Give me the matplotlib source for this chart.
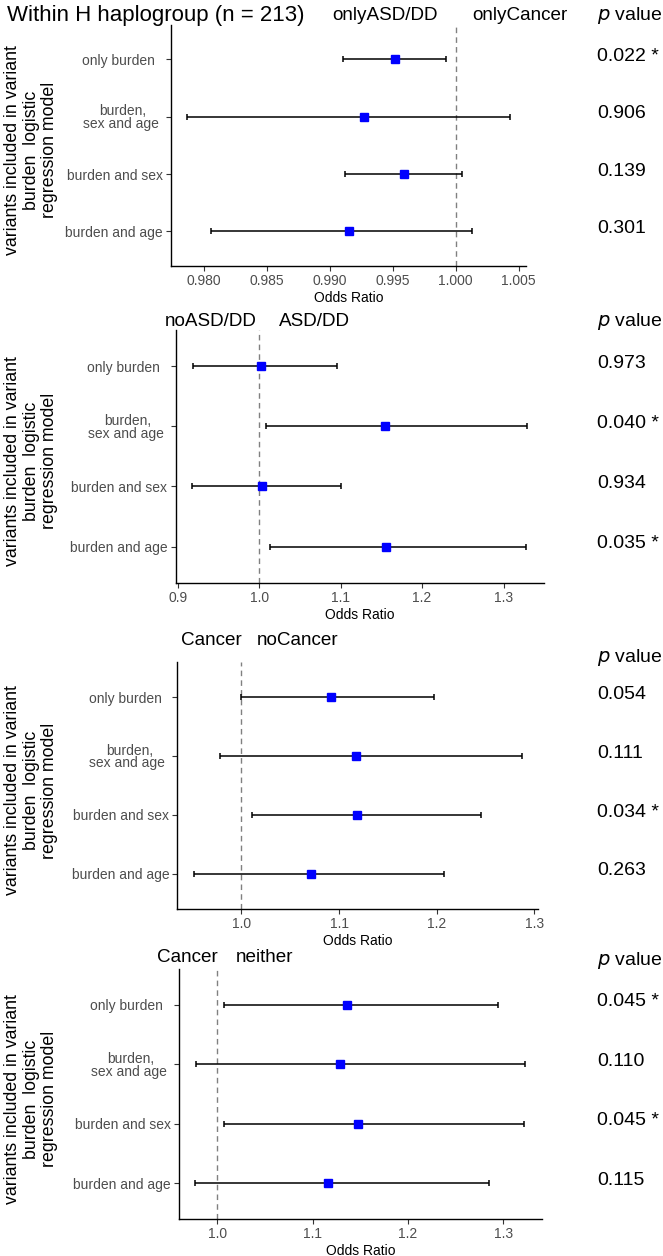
import numpy as np
import matplotlib
matplotlib.use("Agg")
import matplotlib.pyplot as plt
from matplotlib.ticker import MultipleLocator, FormatStrFormatter
from matplotlib.transforms import blended_transform_factory

plt.rcParams['font.family'] = ['Liberation Sans', 'DejaVu Sans']

models = ["only burden  ", "burden,\nsex and age ", "burden and sex", "burden and age"]

# panel 1: onlyASD/DD vs onlyCancer
or1 = [0.9952, 0.9927, 0.9959, 0.9915]
lo1 = [0.9911, 0.9787, 0.9912, 0.9806]
hi1 = [0.9992, 1.0043, 1.0005, 1.0013]
pv1 = ["0.022 *", "0.906", "0.139", "0.301"]

# panel 2: noASD/DD vs ASD/DD
or2 = [1.002, 1.155, 1.004, 1.156]
lo2 = [0.919, 1.009, 0.918, 1.013]
hi2 = [1.095, 1.329, 1.100, 1.327]
pv2 = ["0.973", "0.040 *", "0.934", "0.035 *"]

# panel 3: Cancer vs noCancer
or3 = [1.092, 1.117, 1.118, 1.071]
lo3 = [1.000, 0.978, 1.011, 0.951]
hi3 = [1.197, 1.287, 1.245, 1.208]
pv3 = ["0.054", "0.111", "0.034 *", "0.263"]

# panel 4: Cancer vs neither
or4 = [1.136, 1.129, 1.147, 1.116]
lo4 = [1.007, 0.978, 1.007, 0.977]
hi4 = [1.294, 1.323, 1.322, 1.285]
pv4 = ["0.045 *", "0.110", "0.045 *", "0.115"]

W, H = 663, 1256
fig = plt.figure(figsize=(W / 100, H / 100), dpi=100)


def fx(x):
    return x / W


def fy(y):
    return 1 - y / H


panels = [
    dict(orr=or1, lo=lo1, hi=hi1, pv=pv1, box=(171, 526, 25, 265.7),
         groups=[("onlyASD/DD", 384.6, 15), ("onlyCancer", 520, 15)], ptop=15,
         step=0.005, fmt="%.3f"),
    dict(orr=or2, lo=lo2, hi=hi2, pv=pv2, box=(175.5, 544, 330, 582.7),
         groups=[("noASD/DD", 211, 321.7), ("ASD/DD", 314.5, 321.7)], ptop=321.7,
         step=0.1, fmt="%.1f"),
    dict(orr=or3, lo=lo3, hi=hi3, pv=pv3, box=(177.2, 538, 661.7, 909.3),
         groups=[("Cancer", 211.4, 640.7), ("noCancer", 298.1, 640.7)], ptop=657.3,
         step=0.1, fmt="%.1f"),
    dict(orr=or4, lo=lo4, hi=hi4, pv=pv4, box=(178.9, 541.9, 969.3, 1218.7),
         groups=[("Cancer", 187, 957.3), ("neither", 264.6, 957.3)], ptop=960.7,
         step=0.1, fmt="%.1f"),
]

ypos = np.arange(len(models), 0, -1)

for p in panels:
    l, r, t, b = p["box"]
    ax = fig.add_axes([fx(l), fy(b), fx(r) - fx(l), (b - t) / H])
    orr = np.array(p["orr"])
    err = [orr - np.array(p["lo"]), np.array(p["hi"]) - orr]
    ax.axvline(1.0, color="#808080", lw=1.0, ls=(0, (4, 3)), zorder=1)
    ax.errorbar(orr, ypos, xerr=err, fmt="none", ecolor="black", elinewidth=1.1,
                capsize=2.4, capthick=1.1, zorder=2)
    ax.plot(orr, ypos, "s", color="#0000FF", markersize=6, zorder=3)
    ax.set_ylim(0.4, 4.6)
    ax.set_yticks(ypos)
    ax.set_yticklabels(models, multialignment="center", linespacing=0.9)
    ax.xaxis.set_major_locator(MultipleLocator(p["step"]))
    ax.xaxis.set_major_formatter(FormatStrFormatter(p["fmt"]))
    ax.set_xlabel("Odds Ratio", fontsize=10, labelpad=2)
    for s in ["top", "right"]:
        ax.spines[s].set_visible(False)
    for s in ["left", "bottom"]:
        ax.spines[s].set_linewidth(1.0)
    ax.tick_params(length=3.8, width=0.8, color="#333333", labelcolor="#4D4D4D",
                   labelsize=10, pad=2)

    # y axis title, centred on the panel
    fig.text(fx(31), fy((t + b) / 2 + 5),
             "variants included in variant\nburden  logistic\nregression model",
             fontsize=12.8, rotation=90, ha="center", va="center",
             multialignment="center", linespacing=1.1)

    for txt, x, y in p["groups"]:
        fig.text(fx(x), fy(y), txt, fontsize=13.6, ha="center", va="center")
    fig.text(fx(597), fy(p["ptop"]), r"$p$ value", fontsize=14, ha="left", va="center")
    tr = blended_transform_factory(fig.transFigure, ax.transData)
    for yv, s in zip(ypos, p["pv"]):
        ax.text(fx(597), yv + 0.05, s, transform=tr, fontsize=14, ha="left",
                va="center", clip_on=False)

fig.text(fx(7), fy(15), "Within H haplogroup (n = 213)", fontsize=16,
         ha="left", va="center")

fig.savefig("out.png", dpi=100)
